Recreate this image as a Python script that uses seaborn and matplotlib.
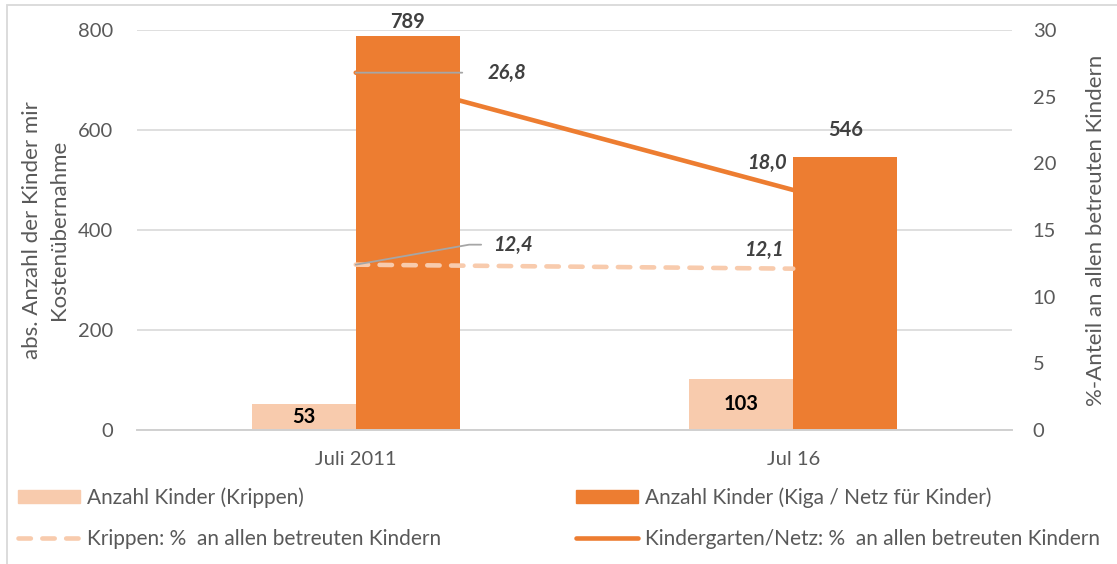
import matplotlib
matplotlib.use("Agg")
import matplotlib.pyplot as plt
from matplotlib.patches import Patch, Rectangle
from matplotlib.lines import Line2D
import seaborn as sns
import pandas as pd

# --- data -------------------------------------------------------------
periods = ["Juli 2011", "Jul 16"]
krippen_count = [53, 103]
kiga_count = [789, 546]
krippen_pct = [12.4, 12.1]
kiga_pct = [26.8, 18.0]

series_count = ["Anzahl Kinder (Krippen)", "Anzahl Kinder (Kiga / Netz für Kinder)"]
series_pct = ["Krippen: %  an allen betreuten Kindern",
              "Kindergarten/Netz: %  an allen betreuten Kindern"]
ylabel_left = "abs. Anzahl der Kinder mir\nKostenübernahme"
ylabel_right = "%-Anteil an allen betreuten Kindern"

# --- style ------------------------------------------------------------
PEACH = "#F8CBAD"
ORANGE = "#ED7D31"
GRID = "#D9D9D9"
TXT = "#595959"
LBL = "#404040"

sns.set_theme(style="white")
plt.rcParams["font.family"] = ["Lato", "DejaVu Sans"]
FS = 14.5

W, H = 1117, 564
fig = plt.figure(figsize=(W / 100, H / 100), dpi=100)
ax = fig.add_axes([137 / W, 1 - 430 / H, (1012 - 137) / W, 400 / H])

df = pd.DataFrame({
    "period": periods * 2,
    "series": [series_count[0]] * 2 + [series_count[1]] * 2,
    "count": krippen_count + kiga_count,
})

sns.barplot(data=df, x="period", y="count", hue="series", order=periods,
            hue_order=series_count, palette=[PEACH, ORANGE], width=0.476,
            gap=0, saturation=1, linewidth=0, ax=ax, legend=False, zorder=2)

ax.set_xlim(-0.5, 1.5)
ax.set_ylim(0, 800)
ax.set_yticks(range(0, 801, 200))
ax.yaxis.grid(True, color=GRID, lw=1.2)
ax.set_axisbelow(True)
for s in ["top", "right", "left"]:
    ax.spines[s].set_visible(False)
ax.spines["bottom"].set_color("#D0D0D0")
ax.spines["bottom"].set_linewidth(1.4)
ax.tick_params(axis="both", length=0, labelsize=FS, labelcolor=TXT)
ax.tick_params(axis="y", pad=17)
ax.tick_params(axis="x", pad=15)
ax.set_xlabel("")
ax.set_ylabel(ylabel_left, fontsize=FS + 1.5, color=TXT, linespacing=1.45)
ax.yaxis.set_label_coords(-68 / 875, 0.5)

# value labels on bars
krippen_bars, kiga_bars = ax.containers
ax.bar_label(krippen_bars, labels=[str(v) for v in krippen_count],
             label_type="center", fontsize=FS, fontweight="bold", color="black")
for bar, v, pad in zip(kiga_bars, kiga_count, [3, 17]):
    ax.annotate(str(v), (bar.get_x() + bar.get_width() / 2, bar.get_height()),
                xytext=(0, pad), textcoords="offset pixels", ha="center",
                va="bottom", fontsize=FS, fontweight="bold", color=LBL)

# secondary axis for percentages
ax2 = ax.twinx()
ax2.set_ylim(0, 30)
ax2.set_yticks(range(0, 31, 5))
for s in ax2.spines.values():
    s.set_visible(False)
ax2.tick_params(axis="y", length=0, labelsize=FS, labelcolor=TXT, pad=15)
ax2.grid(False)
ax2.set_ylabel(ylabel_right, fontsize=FS + 1.5, color=TXT)
ax2.yaxis.set_label_coords(1 + 74 / 875, 0.5)

xpos = list(range(len(periods)))
# the Kindergarten line sits behind the bars
ax.plot(xpos, kiga_pct, color=ORANGE, lw=3.3, solid_capstyle="round",
        transform=ax2.transData, zorder=1.5)
ax.set_ylim(0, 800)
# the Krippen line is drawn over the bars
ax2.plot(xpos, krippen_pct, color=PEACH, lw=3.3, dash_capstyle="round",
         dashes=(2.7, 2.5), zorder=3)

lab_kw = dict(fontsize=FS, fontweight="bold", fontstyle="italic", color=LBL,
              textcoords="offset pixels", va="center")
lead = dict(arrowstyle="-", color="#A6A6A6", lw=1.3, shrinkB=0)
ax2.annotate(f"{kiga_pct[0]:.1f}".replace(".", ","), (xpos[0], kiga_pct[0]),
             xytext=(132, 0), ha="left",
             arrowprops=dict(lead, shrinkA=16, relpos=(0, 0.5)), **lab_kw)
ax2.annotate(f"{krippen_pct[0]:.1f}".replace(".", ","), (xpos[0], krippen_pct[0]),
             xytext=(137, 20), ha="left",
             arrowprops=dict(lead, shrinkA=6, relpos=(0, 0.5),
                             connectionstyle="angle,angleA=0,angleB=10,rad=0"),
             **lab_kw)
ax2.annotate(f"{kiga_pct[1]:.1f}".replace(".", ","), (xpos[1], kiga_pct[1]),
             xytext=(-7, 27), ha="right", **lab_kw)
ax2.annotate(f"{krippen_pct[1]:.1f}".replace(".", ","), (xpos[1], krippen_pct[1]),
             xytext=(-10, 19), ha="right", **lab_kw)

# legend below the plot
handles = [
    Patch(color=PEACH, label=series_count[0]),
    Line2D([], [], color=PEACH, lw=3.3, dashes=(2.7, 2.5),
           dash_capstyle="round", label=series_pct[0]),
    Patch(color=ORANGE, label=series_count[1]),
    Line2D([], [], color=ORANGE, lw=3.3, solid_capstyle="round",
           label=series_pct[1]),
]
LFS = 15
leg = fig.legend(handles=handles, ncol=2, loc="upper left",
                 bbox_to_anchor=(10 / W, 1 - 479 / H), frameon=False,
                 fontsize=LFS, labelcolor=TXT, handlelength=2.95,
                 handleheight=0.58, handletextpad=0.33, columnspacing=6.5,
                 labelspacing=1.0, borderaxespad=0)

# thin frame around the chart area
fig.add_artist(Rectangle((7 / W, -0.1), 1.2, 1.1 - 5 / H,
                         transform=fig.transFigure, fill=False,
                         ec=GRID, lw=1.3))

fig.savefig("out.png", dpi=100)
